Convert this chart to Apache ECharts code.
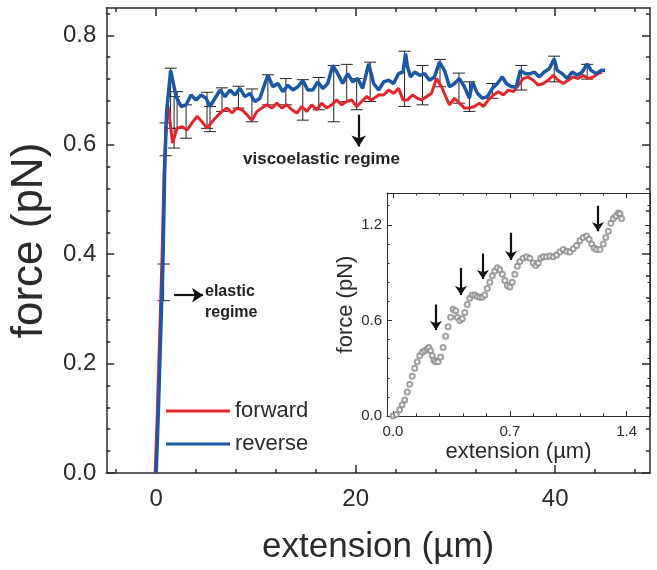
<!DOCTYPE html>
<html>
<head>
<meta charset="utf-8">
<script src="https://cdn.jsdelivr.net/npm/echarts@6/dist/echarts.min.js"></script>
<style>
  html, body { margin: 0; padding: 0; background: #fff; }
  #main { width: 657px; height: 570px; }
</style>
</head>
<body>
<div id="main"></div>
<script>
"use strict";

// forward / reverse force curves, [extension um, force pN]
var forwardData = [
  [-0.1, 0], [0.1, 0.1], [0.35, 0.25], [0.6, 0.4], [0.8, 0.55], [1.0, 0.64], [1.2, 0.67],
  [1.4, 0.64], [1.65, 0.603], [2.1, 0.63], [2.6, 0.633], [3.1, 0.627], [3.6, 0.64], [4.1, 0.652],
  [4.6, 0.642], [5.1, 0.63], [5.6, 0.642], [6.1, 0.652], [6.6, 0.661], [7.1, 0.667], [7.6, 0.658],
  [8.1, 0.667], [8.6, 0.664], [9.1, 0.655], [9.6, 0.645], [10.1, 0.661], [10.6, 0.667], [11.1, 0.673],
  [11.6, 0.667], [12.1, 0.676], [12.6, 0.667], [13.1, 0.673], [13.6, 0.664], [14.1, 0.658], [14.6, 0.67],
  [15.1, 0.661], [15.6, 0.673], [16.1, 0.664], [16.6, 0.676], [17.1, 0.667], [17.6, 0.673], [18.1, 0.682],
  [18.6, 0.673], [19.1, 0.679], [19.6, 0.682], [20.1, 0.67], [20.6, 0.679], [21.1, 0.688], [21.6, 0.682],
  [22.3, 0.691], [22.8, 0.691], [23.3, 0.7], [23.8, 0.694], [24.3, 0.703], [24.75, 0.682], [25.2, 0.682],
  [25.7, 0.691], [26.2, 0.685], [26.6, 0.682], [27.1, 0.688], [27.6, 0.694], [28.1, 0.721], [28.6, 0.706],
  [29.1, 0.685], [29.4, 0.673], [29.9, 0.685], [30.4, 0.676], [30.9, 0.667], [31.4, 0.667], [31.9, 0.67],
  [32.4, 0.676], [32.8, 0.67], [33.3, 0.682], [33.8, 0.691], [34.3, 0.697], [34.8, 0.691], [35.3, 0.7],
  [35.8, 0.697], [36.3, 0.709], [36.8, 0.721], [37.3, 0.724], [37.8, 0.718], [38.3, 0.709], [38.8, 0.712],
  [39.3, 0.718], [39.8, 0.727], [40.3, 0.718], [40.8, 0.712], [41.3, 0.718], [41.8, 0.724], [42.3, 0.721],
  [42.8, 0.727], [43.3, 0.721], [43.8, 0.724], [44.3, 0.73], [44.7, 0.733]
];

var reverseData = [
  [0, 0], [0.2, 0.1], [0.45, 0.25], [0.7, 0.4], [0.85, 0.55], [1.05, 0.66], [1.45, 0.736],
  [2.0, 0.688], [2.5, 0.67], [3.0, 0.673], [3.5, 0.691], [4.0, 0.682], [4.5, 0.691], [5.0, 0.685],
  [5.4, 0.67], [5.9, 0.685], [6.4, 0.7], [6.9, 0.688], [7.4, 0.7], [7.9, 0.691], [8.4, 0.703],
  [8.9, 0.688], [9.4, 0.694], [9.9, 0.679], [10.4, 0.685], [10.9, 0.712], [11.2, 0.727], [11.7, 0.706],
  [12.2, 0.712], [12.7, 0.697], [13.2, 0.709], [13.7, 0.7], [14.2, 0.706], [14.7, 0.718], [15.2, 0.7],
  [15.7, 0.7], [16.2, 0.715], [16.7, 0.703], [17.2, 0.712], [17.7, 0.745], [18.2, 0.73], [18.7, 0.712],
  [19.2, 0.73], [19.7, 0.715], [20.2, 0.721], [20.7, 0.703], [21.3, 0.748], [21.8, 0.712], [22.3, 0.7],
  [22.8, 0.715], [23.3, 0.718], [23.8, 0.712], [24.3, 0.73], [24.75, 0.733], [25.0, 0.767], [25.2, 0.742],
  [25.5, 0.724], [25.9, 0.733], [26.4, 0.727], [26.9, 0.73], [27.4, 0.718], [27.9, 0.724], [28.4, 0.751],
  [28.9, 0.736], [29.4, 0.706], [29.9, 0.712], [30.4, 0.721], [30.9, 0.706], [31.4, 0.685], [31.7, 0.715],
  [32.2, 0.694], [32.7, 0.685], [33.2, 0.688], [33.7, 0.703], [34.2, 0.712], [34.7, 0.724], [35.1, 0.712],
  [35.6, 0.706], [36.1, 0.706], [36.5, 0.736], [37.0, 0.73], [37.5, 0.73], [37.9, 0.733], [38.4, 0.724],
  [38.9, 0.733], [39.4, 0.739], [39.9, 0.757], [40.2, 0.736], [40.7, 0.73], [41.2, 0.721], [41.7, 0.733],
  [42.2, 0.727], [42.7, 0.733], [43.2, 0.748], [43.6, 0.736], [44.1, 0.73], [44.6, 0.736], [45.0, 0.736]
];

// error bars
var errX = [0.75, 0.95, 1.45, 1.8, 2.1, 3.0, 5.1, 5.4, 6.6, 8.25, 9.6, 11.2, 13.0, 14.7, 16.3, 17.8,
  19.1, 20.1, 21.45, 24.9, 26.7, 28.45, 30.35, 31.4, 33.7, 36.6, 39.9, 43.2];
var errLow = [0.315, 0.58, 0.63, 0.594, 0.63, 0.612, 0.63, 0.624, 0.661, 0.667, 0.642, 0.673, 0.673, 0.645,
  0.664, 0.642, 0.679, 0.664, 0.679, 0.67, 0.673, 0.706, 0.676, 0.661, 0.685, 0.7, 0.715, 0.72];
var errHigh = [0.382, 0.64, 0.74, 0.688, 0.697, 0.673, 0.696, 0.67, 0.704, 0.707, 0.702, 0.728, 0.721, 0.719,
  0.723, 0.745, 0.747, 0.721, 0.751, 0.771, 0.745, 0.756, 0.731, 0.715, 0.712, 0.745, 0.762, 0.747];

// inset: single unfolding trace
var insetData = [
  [0.0, 0.0], [0.02, 0.01], [0.04, 0.04], [0.055, 0.07], [0.07, 0.1], [0.085, 0.15], [0.1, 0.2],
  [0.115, 0.25], [0.13, 0.3], [0.145, 0.34], [0.16, 0.38], [0.175, 0.4], [0.19, 0.41], [0.205, 0.42],
  [0.215, 0.43], [0.225, 0.41], [0.235, 0.38], [0.245, 0.35], [0.255, 0.34], [0.27, 0.34], [0.285, 0.37],
  [0.3, 0.43], [0.315, 0.5], [0.33, 0.56], [0.345, 0.62], [0.36, 0.67], [0.375, 0.66], [0.385, 0.62],
  [0.4, 0.6], [0.415, 0.61], [0.43, 0.65], [0.445, 0.7], [0.46, 0.74], [0.475, 0.76], [0.49, 0.76],
  [0.505, 0.75], [0.52, 0.745], [0.535, 0.745], [0.55, 0.76], [0.565, 0.8], [0.58, 0.84], [0.595, 0.88],
  [0.61, 0.91], [0.625, 0.93], [0.64, 0.92], [0.655, 0.89], [0.67, 0.85], [0.685, 0.82], [0.7, 0.81],
  [0.715, 0.84], [0.73, 0.89], [0.745, 0.94], [0.76, 0.97], [0.78, 0.99], [0.8, 1.0], [0.82, 0.99],
  [0.84, 0.96], [0.855, 0.945], [0.87, 0.96], [0.885, 0.99], [0.9, 1.0], [0.92, 1.0], [0.94, 1.005],
  [0.96, 1.0], [0.98, 1.01], [1.0, 1.03], [1.02, 1.045], [1.04, 1.035], [1.06, 1.03], [1.08, 1.05],
  [1.1, 1.07], [1.12, 1.1], [1.14, 1.12], [1.16, 1.13], [1.175, 1.11], [1.19, 1.08], [1.205, 1.055],
  [1.22, 1.045], [1.24, 1.045], [1.26, 1.08], [1.275, 1.12], [1.29, 1.16], [1.305, 1.21], [1.32, 1.24],
  [1.335, 1.255], [1.35, 1.275], [1.36, 1.27], [1.37, 1.24]
];

// arrows: [x, yFrom, yTo] in inset, main arrows as start/end points
var insetArrows = [[0.257, 0.70, 0.54], [0.407, 0.93, 0.76], [0.539, 1.02, 0.86], [0.707, 1.15, 0.98], [1.228, 1.32, 1.16]];
var viscoArrow = [[20.3, 0.655], [20.3, 0.597]];
var elasticArrow = [[1.8, 0.325], [4.7, 0.325]];

// ticks
var mainXMajor = [0, 20, 40];
var mainXMinor = [-4, 4, 8, 12, 16, 24, 28, 32, 36, 44, 48];
var mainYMajor = [0, 0.2, 0.4, 0.6, 0.8];
var mainYMinor = [0.04, 0.08, 0.12, 0.16, 0.24, 0.28, 0.32, 0.36, 0.44, 0.48, 0.52, 0.56, 0.64, 0.68, 0.72, 0.76, 0.84];
var insetXMajor = [0, 0.7, 1.4];
var insetXMinor = [0.14, 0.28, 0.42, 0.56, 0.84, 0.98, 1.12, 1.26];
var insetYMajor = [0, 0.6, 1.2];
var insetYMinor = [0.12, 0.24, 0.36, 0.48, 0.72, 0.84, 0.96, 1.08, 1.32];

var FONT = "Liberation Sans";
var INK = "#2b2b2b";

function boxAxes(gridIndex, dim, min, max, major, minor, label, name, lineW, tickLen) {
  var sides = dim === "x" ? ["bottom", "top"] : ["left", "right"];
  var out = [];
  sides.forEach(function (side, i) {
    var ax = {
      gridIndex: gridIndex, type: "value", min: min, max: max, position: side,
      axisLine: { show: true, onZero: false, lineStyle: { color: INK, width: lineW } },
      axisTick: { show: true, inside: true, length: tickLen, customValues: major, lineStyle: { color: INK, width: lineW } },
      axisLabel: i === 0 ? label : { show: false },
      splitLine: { show: false }
    };
    if (i === 0 && name) {
      ax.name = name.text;
      ax.nameLocation = "middle";
      ax.nameGap = name.gap;
      ax.nameTextStyle = { fontFamily: FONT, fontSize: name.size, color: INK };
    }
    out.push(ax);
    out.push({
      gridIndex: gridIndex, type: "value", min: min, max: max, position: side,
      axisLine: { show: false, onZero: false },
      axisTick: { show: true, inside: true, length: tickLen / 2, customValues: minor, lineStyle: { color: INK, width: lineW } },
      axisLabel: { show: false },
      splitLine: { show: false }
    });
  });
  return out;
}

var chart = echarts.init(document.getElementById("main"));

var xAxes = boxAxes(0, "x", -5, 49.5, mainXMajor, mainXMinor,
  { customValues: mainXMajor, fontFamily: FONT, fontSize: 24, color: INK, margin: 14 },
  { text: "extension (\u00b5m)", gap: 57, size: 35 }, 1.5, 8)
  .concat(boxAxes(1, "x", -0.036, 1.54, insetXMajor, insetXMinor,
  { customValues: insetXMajor, fontFamily: FONT, fontSize: 15, color: INK, margin: 8,
    formatter: function (v) { return v.toFixed(1); } },
  { text: "extension (\u00b5m)", gap: 25, size: 22 }, 1, 5));

var yAxes = boxAxes(0, "y", 0, 0.85, mainYMajor, mainYMinor,
  { customValues: mainYMajor, fontFamily: FONT, fontSize: 24, color: INK, margin: 10,
    formatter: function (v) { return v.toFixed(1); } },
  { text: "force (pN)", gap: 50, size: 44 }, 1.5, 8)
  .concat(boxAxes(1, "y", 0, 1.4, insetYMajor, insetYMinor,
  { customValues: insetYMajor, fontFamily: FONT, fontSize: 15, color: INK, margin: 5,
    formatter: function (v) { return v.toFixed(1); } },
  { text: "force (pN)", gap: 29, size: 22 }, 1, 5));

var errData = errX.map(function (x, i) { return [x, errLow[i], errHigh[i]]; });

var arrowStyle = { color: "#111", width: 2.2, type: "solid" };

chart.setOption({
  animation: false,
  grid: [
    { left: 100, top: 8, width: 550, height: 466 },
    { left: 387, top: 193, width: 263, height: 223, show: true, backgroundColor: "#fff", borderWidth: 0 }
  ],
  xAxis: xAxes,
  yAxis: yAxes,
  legend: {
    orient: "vertical", left: 166, top: 400, padding: 0, itemWidth: 64, itemHeight: 3, itemGap: 11,
    icon: "rect",
    textStyle: { fontFamily: FONT, fontSize: 22, color: INK, lineHeight: 22 },
    data: ["forward", "reverse"]
  },
  graphic: [
    { type: "text", left: 243, top: 151, style: { text: "viscoelastic regime", font: "bold 17px " + FONT, fill: "#222" } },
    { type: "text", left: 205, top: 281, style: { text: "elastic\nregime", font: "bold 16px " + FONT, lineHeight: 21, fill: "#222" } }
  ],
  series: [
    {
      type: "custom", xAxisIndex: 0, yAxisIndex: 0, data: errData, z: 1, silent: true,
      renderItem: function (params, api) {
        var lo = api.coord([api.value(0), api.value(1)]);
        var hi = api.coord([api.value(0), api.value(2)]);
        var st = { stroke: "#222", lineWidth: 1 };
        return {
          type: "group",
          children: [
            { type: "line", shape: { x1: lo[0], y1: lo[1], x2: hi[0], y2: hi[1] }, style: st },
            { type: "line", shape: { x1: hi[0] - 6, y1: hi[1], x2: hi[0] + 6, y2: hi[1] }, style: st },
            { type: "line", shape: { x1: lo[0] - 6, y1: lo[1], x2: lo[0] + 6, y2: lo[1] }, style: st }
          ]
        };
      }
    },
    {
      name: "forward", type: "line", xAxisIndex: 0, yAxisIndex: 0, data: forwardData,
      showSymbol: false, symbol: "none", z: 2,
      lineStyle: { color: "#e3262b", width: 3 }, itemStyle: { color: "#e3262b" },
      markLine: {
        silent: true, symbol: ["none", "arrow"], symbolSize: 11, lineStyle: arrowStyle,
        label: { show: false }, animation: false,
        data: [
          [{ coord: viscoArrow[0] }, { coord: viscoArrow[1] }],
          [{ coord: elasticArrow[0] }, { coord: elasticArrow[1] }]
        ]
      }
    },
    {
      name: "reverse", type: "line", xAxisIndex: 0, yAxisIndex: 0, data: reverseData,
      showSymbol: false, symbol: "none", z: 3,
      lineStyle: { color: "#1c57a5", width: 3.5 }, itemStyle: { color: "#1c57a5" }
    },
    {
      type: "scatter", xAxisIndex: 4, yAxisIndex: 4, data: insetData,
      symbol: "emptyCircle", symbolSize: 5,
      itemStyle: { color: "#8a8a8a", borderWidth: 0.9 },
      markLine: {
        silent: true, symbol: ["none", "arrow"], symbolSize: 9, lineStyle: arrowStyle,
        label: { show: false }, animation: false,
        data: insetArrows.map(function (a) {
          return [{ coord: [a[0], a[1]] }, { coord: [a[0], a[2]] }];
        })
      }
    }
  ]
});
</script>
</body>
</html>
